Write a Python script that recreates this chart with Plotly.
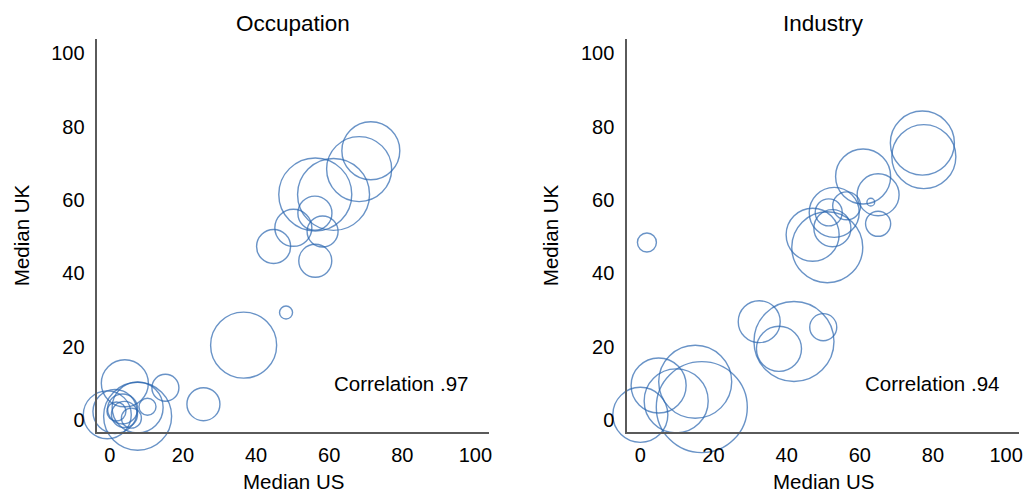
import plotly.graph_objects as go

# ---- data ----
tick_vals = [0, 20, 40, 60, 80, 100]
tick_text = ["0", "20", "40", "60", "80", "100"]

occ_us = [71.4, 68.2, 56.2, 61.2, 56.1, 50.2, 58.2, 44.8, 56.2, 48.2, 36.6, 25.6,
          15.2, 4.1, 7.6, 7.6, -0.7, 10.3, 1.4, 1.8, 5.9, 3.5, 4.0]
occ_uk = [73.4, 68.4, 61.5, 61.5, 56.4, 52.4, 51.4, 47.3, 43.4, 29.3, 20.4, 4.3,
          8.8, 10.0, 1.0, 3.4, 1.4, 3.6, 2.3, 2.3, 0.5, 3.0, 1.5]
occ_share = [33.6, 42.3, 53.3, 51.8, 11.6, 13.7, 9.6, 11.6, 10.9, 1.7, 43.6, 10.9,
             7.3, 22.1, 46.2, 26.0, 23.0, 2.9, 19.4, 3.6, 4.0, 9.0, 6.8]

ind_us = [77.1, 77.5, 60.9, 65.0, 63.0, 65.0, 56.4, 53.0, 51.5, 52.5, 47.1, 51.1,
          1.8, 32.5, 42.0, 37.9, 50.0, 5.0, 15.0, 9.8, 16.8, 0.0]
ind_uk = [75.5, 71.8, 66.4, 61.4, 59.4, 53.5, 58.4, 56.6, 56.6, 52.3, 50.5, 47.1,
          48.4, 26.8, 21.4, 19.4, 25.3, 9.4, 10.4, 5.2, 3.5, 1.4]
ind_share = [41.0, 41.0, 30.3, 17.6, 0.6, 6.3, 7.8, 25.0, 7.3, 13.7, 28.1, 50.4,
             3.6, 17.6, 64.0, 20.3, 7.3, 30.3, 53.3, 41.0, 82.8, 30.3]

panel_titles = ["Occupation", "Industry"]
corr_labels = ["Correlation .97", "Correlation .94"]
x_title = "Median US"
y_title = "Median UK"

# ---- style ----
FONT = "Liberation Sans, Arial, Helvetica, sans-serif"
BLUE = "#2a66b0"
AXIS = "#5a5a5a"

fig = go.Figure()

for i, (xs, ys, ss) in enumerate([(occ_us, occ_uk, occ_share),
                                  (ind_us, ind_uk, ind_share)]):
    suffix = "" if i == 0 else "2"
    fig.add_trace(go.Scatter(
        x=xs, y=ys, mode="markers",
        xaxis="x" + suffix, yaxis="y" + suffix,
        cliponaxis=False,
        marker=dict(size=ss, sizemode="area", sizeref=0.02, sizemin=1,
                    color="rgba(0,0,0,0)",
                    line=dict(color=BLUE, width=1.4)),
        showlegend=False, hoverinfo="x+y",
    ))

ydom = [1 - 431.7 / 493, 1 - 39.3 / 493]
xdoms = [[97.7 / 1028, 490.7 / 1028], [629.0 / 1028, 1022.3 / 1028]]
xranges = [[-3.4, 103.8], [-3.6, 103.6]]

axis_common = dict(
    showgrid=False, zeroline=False, showline=True, linecolor=AXIS, linewidth=1.6,
    ticks="outside", tickcolor="rgba(0,0,0,0)",
    tickvals=tick_vals, ticktext=tick_text,
    tickfont=dict(family=FONT, size=20, color="#000"),
)

layout = dict(
    width=1028, height=493,
    margin=dict(l=0, r=0, t=0, b=0),
    paper_bgcolor="white", plot_bgcolor="white",
    font=dict(family=FONT, color="#000"),
)
layout["xaxis"] = dict(domain=xdoms[0], range=xranges[0], anchor="y", ticklen=4, **axis_common)
layout["yaxis"] = dict(domain=ydom, range=[-3.2, 103.8], anchor="x", ticklen=7, **axis_common)
layout["xaxis2"] = dict(domain=xdoms[1], range=xranges[1], anchor="y2", ticklen=4, **axis_common)
layout["yaxis2"] = dict(domain=ydom, range=[-3.2, 103.8], anchor="x2", ticklen=7, **axis_common)
fig.update_layout(**layout)

annotations = []
for i in range(2):
    xd = xdoms[i]
    cx = (xd[0] + xd[1]) / 2
    annotations.append(dict(text=panel_titles[i], x=cx, y=1 - 23 / 493, xref="paper", yref="paper",
                            showarrow=False, xanchor="center", yanchor="middle",
                            font=dict(family=FONT, size=22.5, color="#000")))
    annotations.append(dict(text=x_title, x=cx, y=1 - 481 / 493, xref="paper", yref="paper",
                            showarrow=False, xanchor="center", yanchor="middle",
                            font=dict(family=FONT, size=20.5, color="#000")))
    ytx = [21.7, 552.3][i] / 1028
    annotations.append(dict(text=y_title, x=ytx, y=(ydom[0] + ydom[1]) / 2, xref="paper", yref="paper",
                            showarrow=False, xanchor="center", yanchor="middle", textangle=-90,
                            font=dict(family=FONT, size=20.5, color="#000")))
    suffix = "" if i == 0 else "2"
    annotations.append(dict(text=corr_labels[i], x=98.6, y=10, xref="x" + suffix, yref="y" + suffix,
                            showarrow=False, xanchor="right", yanchor="middle",
                            font=dict(family=FONT, size=20.5, color="#000")))
fig.update_layout(annotations=annotations)

fig.write_html("out.html", config={"displayModeBar": False},
               post_script="document.body.style.margin='0';document.body.style.padding='0';")
